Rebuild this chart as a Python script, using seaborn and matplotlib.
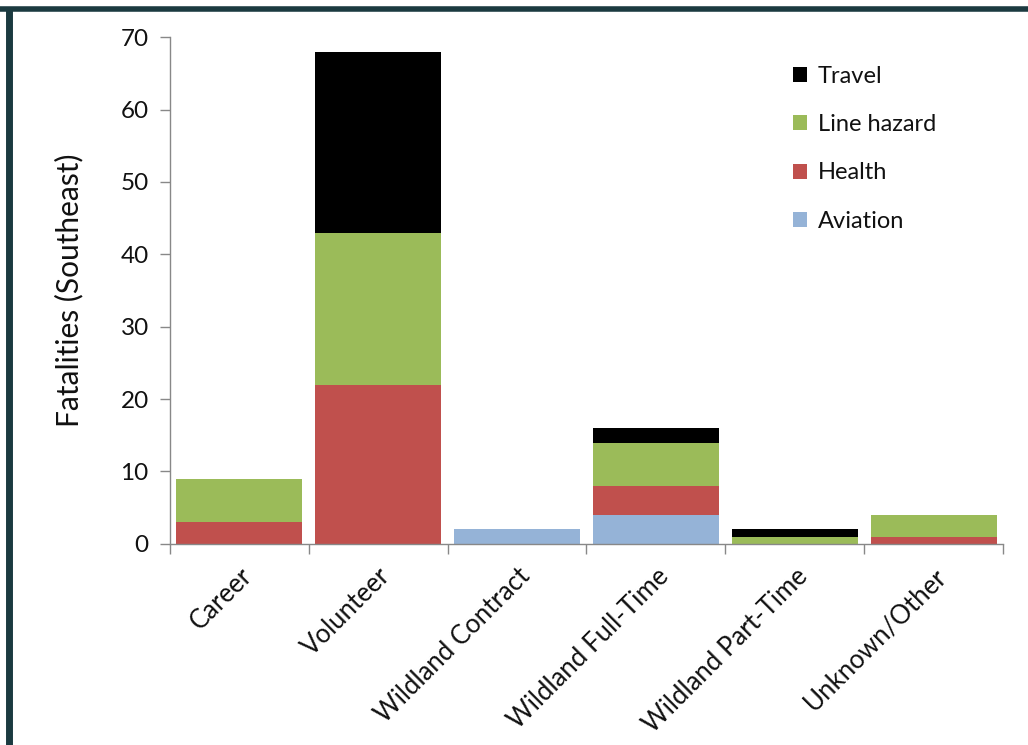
import numpy as np
import pandas as pd
import matplotlib
matplotlib.use("Agg")
import matplotlib.pyplot as plt
from matplotlib.lines import Line2D
from matplotlib.patches import Patch
import seaborn as sns

categories = ["Career", "Volunteer", "Wildland Contract", "Wildland Full-Time",
              "Wildland Part-Time", "Unknown/Other"]
aviation = [0, 0, 2, 4, 0, 0]
health = [3, 22, 0, 4, 0, 1]
line_hazard = [6, 21, 0, 6, 1, 3]
travel = [0, 25, 0, 2, 1, 0]

series_names = ["Aviation", "Health", "Line hazard", "Travel"]
series_vals = [aviation, health, line_hazard, travel]
colors = {"Aviation": "#95B3D7", "Health": "#C0504D",
          "Line hazard": "#9BBB59", "Travel": "#000000"}

sns.set_theme(style="white")
plt.rcParams["font.family"] = ["Lato", "DejaVu Sans"]

fig = plt.figure(figsize=(10.28, 7.45), dpi=100)
ax = fig.add_axes([0.165, 0.270, 0.811, 0.680])

cum = np.cumsum(np.array(series_vals), axis=0)
df = pd.DataFrame({"category": categories})
for name, c in zip(series_names, cum):
    df[name] = c

# draw from top of stack down so lower segments overlay
for name in reversed(series_names):
    sns.barplot(data=df, x="category", y=name, color=colors[name],
                width=0.91, saturation=1, ax=ax, order=categories,
                linewidth=0, edgecolor="none")

ax.set_ylim(0, 70)
ax.set_xlim(-0.5, len(categories) - 0.5)
ax.set_yticks(range(0, 71, 10))
ax.tick_params(axis="y", labelsize=17.5, length=7, width=1, color="#888888",
               direction="out", left=True, pad=8, labelcolor="#111111")
ax.set_xticks(range(len(categories)))
ax.set_xticklabels(categories, rotation=45, ha="right", rotation_mode="anchor",
                   fontsize=18.5, color="#111111")
ax.tick_params(axis="x", length=0, pad=14)
ax.set_xticks(np.arange(-0.5, len(categories), 1.0), minor=True)
ax.tick_params(axis="x", which="minor", length=7, width=1, color="#888888",
               direction="out", bottom=True)
ax.set_xlabel("")
ax.set_ylabel("Fatalities (Southeast)", fontsize=21.5, labelpad=27, color="#111111")

for side in ["top", "right"]:
    ax.spines[side].set_visible(False)
for side in ["left", "bottom"]:
    ax.spines[side].set_color("#888888")
    ax.spines[side].set_linewidth(1)

handles = [Patch(facecolor=colors[n], edgecolor="none") for n in reversed(series_names)]
leg = ax.legend(handles, list(reversed(series_names)), loc="upper left",
                bbox_to_anchor=(0.722, 0.985), frameon=False, fontsize=17,
                handlelength=0.6, handleheight=0.6, handletextpad=0.45,
                labelspacing=1.15)
for t in leg.get_texts():
    t.set_color("#111111")

# dark frame (top and left)
fig.add_artist(Line2D([0, 1], [0.9873, 0.9873], transform=fig.transFigure,
                      color="#1B3A40", linewidth=4, solid_capstyle="butt"))
fig.add_artist(Line2D([0.0083, 0.0083], [0, 0.9900], transform=fig.transFigure,
                      color="#1B3A40", linewidth=5, solid_capstyle="butt"))

fig.savefig("out.png", dpi=100)
